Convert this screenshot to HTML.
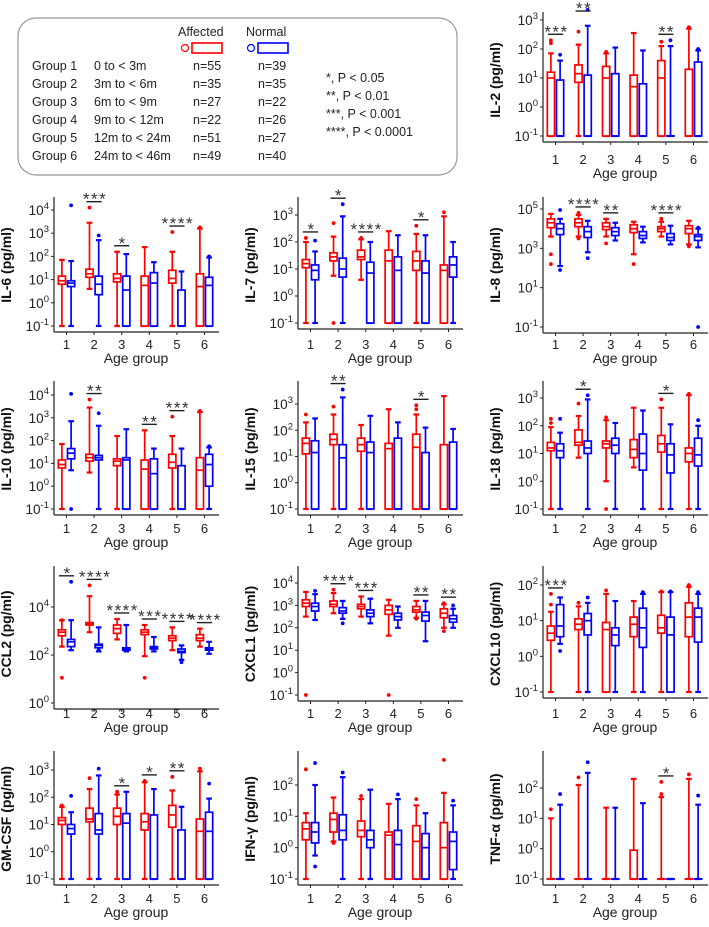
<!DOCTYPE html>
<html><head><meta charset="utf-8"><style>
html,body{margin:0;padding:0;background:#fff;}
svg{display:block;font-family:"Liberation Sans",sans-serif;}
</style></head><body>
<svg id="fig" width="709" height="927" viewBox="0 0 709 927" xmlns="http://www.w3.org/2000/svg">
<g font-size="12.5" fill="#222">
<rect x="18" y="18" width="439" height="157" rx="18" fill="none" stroke="#999" stroke-width="1.2"/>
<text x="178" y="36">Affected</text>
<text x="246" y="36">Normal</text>
<circle cx="185" cy="48" r="3.5" fill="none" stroke="#f00" stroke-width="1.2"/>
<rect x="192" y="43" width="30" height="10" fill="none" stroke="#f00" stroke-width="1.6"/>
<circle cx="251" cy="48" r="3.5" fill="none" stroke="#00f" stroke-width="1.2"/>
<rect x="258" y="43" width="30" height="10" fill="none" stroke="#00f" stroke-width="1.6"/>
<g id="grpRows"></g>
<text x="326" y="82">*, P &lt; 0.05</text>
<text x="326" y="100">**, P &lt; 0.01</text>
<text x="326" y="118">***, P &lt; 0.001</text>
<text x="326" y="136">****, P &lt; 0.0001</text>
</g>
<g id="panels"></g>
</svg>
<script>
const categories = ['1','2','3','4','5','6'];
const groupNames = ['Group 1','Group 2','Group 3','Group 4','Group 5','Group 6'];
const groupRanges = ['0 to < 3m','3m to < 6m','6m to < 9m','9m to < 12m','12m to < 24m','24m to < 46m'];
const nAffected = [55,35,27,22,51,49];
const nNormal = [39,35,22,26,27,40];

// values are log10(pg/ml): [min, q1, median, q3, max]
const il2Aff = [[-1,-1,1.0,1.2,1.85],[-1,0.85,1.15,1.45,2.15],[-1,-1,1.0,1.4,1.85],[-1,-1,0.7,1.1,2.55],[-1,-1,1.0,1.6,2.1],[-1,-1,-1,1.3,2.7]];
const il2Nor = [[-1,-1,-1,0.93,1.6],[-1,-1,-1,1.1,2.8],[-1,-1,-1,1.15,2.05],[-1,-1,-1,0.8,1.95],[-1,-1,-1,-1,2.1],[-1,-1,-1,1.55,1.95]];
const il2AffOut = [[2.2,2.3],[2.6],[1.9],[],[2.25,2.25],[2.75]];
const il2NorOut = [[1.8],[3.35],[],[],[2.3],[2.0]];
const il2Sig = ['***','**','','','**',''];

const il6Aff = [[-1,0.8,0.95,1.15,1.85],[0.6,1.1,1.25,1.45,3.45],[-1,0.9,1.05,1.25,2.2],[-1,-1,0.75,1.15,2.4],[-1,0.85,1.05,1.4,2.2],[-1,-1,0.7,1.25,3.2]];
const il6Nor = [[-1,0.7,0.85,0.95,1.8],[-1,0.35,0.8,1.15,2.7],[-1,-1,0.55,1.15,2.1],[-1,-1,0.85,1.3,1.75],[-1,-1,-1,0.55,1.35],[-1,-1,0.75,1.1,1.95]];
const il6AffOut = [[],[4.1],[],[],[3.05],[3.25]];
const il6NorOut = [[4.2],[2.9],[],[],[],[2.0]];
const il6Sig = ['','***','*','','****',''];

const il7Aff = [[-1,1.05,1.2,1.35,2.0],[0.75,1.3,1.45,1.6,2.2],[0.6,1.35,1.45,1.7,2.1],[-1,-1,1.3,1.7,2.4],[-1,0.95,1.3,1.65,2.3],[-1,-1,0.95,1.15,2.95]];
const il7Nor = [[-1,0.6,0.95,1.15,1.65],[-1,0.7,1.0,1.4,2.95],[-1,-1,0.85,1.25,2.0],[-1,-1,0.95,1.45,2.25],[-1,-1,0.85,1.3,2.25],[-1,0.7,1.15,1.45,2.0]];
const il7AffOut = [[2.15],[-1,2.7],[2.15],[],[2.6],[3.1]];
const il7NorOut = [[2.05],[3.4],[],[],[],[]];
const il7Sig = ['*','*','****','','*',''];

const il8Aff = [[3.6,4.05,4.3,4.5,4.75],[3.6,4.1,4.3,4.5,4.7],[3.6,3.95,4.1,4.3,4.5],[2.7,3.8,4.0,4.2,4.35],[3.6,3.85,4.0,4.1,4.35],[3.2,3.75,4.0,4.15,4.4]];
const il8Nor = [[2.1,3.7,4.0,4.25,4.5],[2.8,3.55,3.85,4.1,4.4],[3.4,3.65,3.85,4.05,4.3],[3.3,3.5,3.65,3.85,4.1],[3.2,3.4,3.55,3.75,4.15],[3.05,3.4,3.6,3.7,4.0]];
const il8AffOut = [[2.7,2.2],[3.5,4.8],[3.25],[2.2],[4.5],[3.1]];
const il8NorOut = [[4.95,1.9],[2.5],[],[],[],[-1,4.05]];
const il8Sig = ['','****','**','','****',''];

const il10Aff = [[-1,0.8,0.95,1.15,1.85],[0.6,1.1,1.25,1.4,3.45],[-1,0.9,1.1,1.2,2.2],[-1,-1,0.75,1.15,2.45],[-1,0.8,1.05,1.4,2.2],[-1,-1,0.7,1.25,3.25]];
const il10Nor = [[0.7,1.2,1.45,1.65,2.85],[-1,1.15,1.25,1.35,2.65],[-1,-1,1.15,1.25,2.5],[-1,-1,0.55,1.2,1.65],[-1,-1,-1,0.9,1.65],[-1,0.0,0.95,1.4,1.7]];
const il10AffOut = [[],[3.8],[],[],[3.05],[3.3]];
const il10NorOut = [[-1,4.05],[3.2],[],[],[],[1.75]];
const il10Sig = ['','**','','**','***',''];

const il15Aff = [[-1,1.1,1.5,1.7,2.3],[-1,1.45,1.65,1.85,2.6],[-1,1.2,1.45,1.7,2.2],[-1,-1,1.3,1.5,2.8],[-1,-1,1.35,1.85,2.6],[-1,-1,-1,1.45,3.3]];
const il15Nor = [[-1,-1,1.15,1.6,2.45],[-1,-1,0.95,1.45,3.25],[-1,-1,1.15,1.55,2.55],[-1,-1,-1,1.7,2.3],[-1,-1,-1,1.15,2.1],[-1,-1,-1,1.55,2.05]];
const il15AffOut = [[2.6],[2.9],[],[],[2.8,2.95],[]];
const il15NorOut = [[],[3.55],[],[],[],[]];
const il15Sig = ['','**','','','*',''];

const il18Aff = [[-1,1.1,1.2,1.4,1.95],[0.85,1.3,1.4,1.85,2.35],[0.0,1.2,1.35,1.45,2.2],[0.5,0.85,1.15,1.5,2.65],[-1,1.05,1.35,1.65,2.65],[-1,0.7,1.0,1.2,3.1]];
const il18Nor = [[-1,0.85,1.1,1.35,1.75],[-1,1.0,1.2,1.45,2.95],[-1,1.0,1.3,1.55,2.1],[-1,0.4,1.0,1.7,2.55],[-1,0.3,0.95,1.35,2.05],[-1,0.55,0.95,1.55,2.0]];
const il18AffOut = [[2.1,2.25],[2.8],[-1,2.3],[],[2.95],[3.15]];
const il18NorOut = [[2.25],[3.1],[],[],[],[2.2]];
const il18Sig = ['','*','','','*',''];

const ccl2Aff = [[2.35,2.8,2.95,3.05,3.45],[2.95,3.25,3.3,3.35,4.45],[2.65,2.9,3.1,3.25,3.5],[1.95,2.85,2.95,3.05,3.25],[2.2,2.6,2.7,2.8,3.15],[2.35,2.6,2.7,2.85,3.1]];
const ccl2Nor = [[2.2,2.35,2.55,2.65,3.45],[2.15,2.3,2.4,2.45,3.15],[2.15,2.2,2.25,2.3,3.25],[2.15,2.25,2.3,2.35,2.75],[1.8,2.1,2.15,2.25,2.4],[2.05,2.2,2.25,2.3,2.55]];
const ccl2AffOut = [[1.05,3.45],[4.9],[],[1.05],[],[]];
const ccl2NorOut = [[5.05],[2.2],[],[],[1.7],[]];
const ccl2Sig = ['*','****','****','***','****','****'];

const cxcl1Aff = [[2.5,2.95,3.1,3.25,3.6],[2.65,2.95,3.05,3.2,3.55],[2.5,2.85,2.95,3.05,3.4],[1.65,2.6,2.8,3.0,3.25],[2.45,2.7,2.8,2.95,3.2],[2.0,2.45,2.65,2.85,3.05]];
const cxcl1Nor = [[2.35,2.75,2.95,3.1,3.5],[2.4,2.65,2.75,2.9,3.2],[2.2,2.5,2.65,2.8,3.3],[2.0,2.35,2.5,2.65,2.95],[1.4,2.3,2.55,2.7,3.2],[2.0,2.25,2.4,2.55,2.85]];
const cxcl1AffOut = [[-1],[3.7],[],[-1],[2.4],[1.85,3.1]];
const cxcl1NorOut = [[3.65],[2.2],[],[],[],[3.0]];
const cxcl1Sig = ['','****','***','','**','**'];

const cxcl10Aff = [[-1,0.45,0.65,0.85,1.25],[-1,0.75,0.9,1.05,1.4],[-1,-1,0.75,0.95,1.75],[-1,0.55,0.9,1.1,1.55],[-1,0.65,0.8,1.15,1.8],[-1,0.55,1.1,1.5,1.95]];
const cxcl10Nor = [[0.35,0.55,0.85,1.45,1.65],[-1,0.6,1.0,1.2,1.5],[-1,0.3,0.6,0.8,1.55],[-1,0.25,0.8,1.35,1.75],[-1,-1,0.6,1.1,1.8],[-1,0.4,1.1,1.35,1.75]];
const cxcl10AffOut = [[1.45,1.75],[1.5],[1.85],[],[1.82],[2.0]];
const cxcl10NorOut = [[0.15],[1.65],[],[1.8],[1.82],[1.8]];
const cxcl10Sig = ['***','','','','',''];

const gmcsfAff = [[-1,1.0,1.15,1.25,1.65],[-1,1.1,1.2,1.6,2.3],[-1,1.0,1.3,1.6,2.1],[-1,0.8,1.1,1.4,2.55],[-1,0.9,1.35,1.7,2.25],[-1,-1,0.75,1.2,2.95]];
const gmcsfNor = [[-1,0.65,0.85,1.0,1.45],[-1,0.65,0.8,1.4,2.8],[-1,-1,1.05,1.4,2.2],[-1,-1,-1,1.35,2.3],[-1,-1,-1,0.8,1.65],[-1,-1,0.75,1.45,1.95]];
const gmcsfAffOut = [[1.7],[2.7],[2.2],[2.6],[2.75],[3.05]];
const gmcsfNorOut = [[2.05],[3.05],[],[],[],[2.5]];
const gmcsfSig = ['','','*','*','**',''];

const ifngAff = [[-1,0.25,0.6,0.8,1.1],[0.2,0.5,0.9,1.1,1.6],[-1,0.35,0.55,0.85,1.55],[-1,-1,0.4,0.5,1.4],[-1,-1,0.2,0.7,1.35],[-1,-1,0.0,0.8,1.75]];
const ifngNor = [[-0.25,0.15,0.5,0.8,2.0],[-1,0.25,0.55,1.05,2.25],[-1,0.0,0.25,0.55,1.85],[-1,-1,0.1,0.55,1.55],[-1,-1,0.0,0.45,1.1],[-1,-0.7,0.2,0.5,1.35]];
const ifngAffOut = [[2.5],[0.15],[1.65],[],[1.55],[2.8]];
const ifngNorOut = [[-0.6,2.7],[2.4],[],[1.7],[],[1.5]];
const ifngSig = ['','','','','',''];

const tnfAff = [[-1,-1,-1,-1,1.0],[-1,-1,-1,-1,2.1],[-1,-1,-1,-1,1.35],[-1,-1,-1,-0.05,2.3],[-1,-1,-1,-1,1.7],[-1,-1,-1,-1,2.3]];
const tnfNor = [[-1,-1,-1,-1,1.45],[-1,-1,-1,-1,2.5],[-1,-1,-1,-1,1.35],[-1,-1,-1,-1,1.5],[-1,-1,-1,-1,-1],[-1,-1,-1,-1,1.45]];
const tnfAffOut = [[1.3],[2.35],[],[],[1.8,2.2],[2.45]];
const tnfNorOut = [[1.8],[2.85],[],[],[],[1.75]];
const tnfSig = ['','','','','*',''];

const NS='http://www.w3.org/2000/svg';
function mk(tag, attrs, parent){const e=document.createElementNS(NS,tag);for(const k in attrs)e.setAttribute(k,attrs[k]);parent.appendChild(e);return e;}

const gr=document.getElementById('grpRows');
for(let i=0;i<6;i++){
  const y=70+i*18;
  const cols=[[32,groupNames[i]],[94,groupRanges[i]],[193,'n='+nAffected[i]],[258,'n='+nNormal[i]]];
  cols.forEach(function(c,j){
    const t=mk('text',{x:c[0],y:y},gr);
    t.textContent=c[1];
    
    
  });
}

const colX=[54,298,543];
const rowY=[0,185,369,554,739];
const panels=[
 {id:'il-2',title:'IL-2 (pg/ml)',c:2,r:0,ex:[-1,0,1,2,3],top:20,bot:136,aff:il2Aff,nor:il2Nor,ao:il2AffOut,no:il2NorOut,sig:il2Sig},
 {id:'il-6',title:'IL-6 (pg/ml)',c:0,r:1,ex:[-1,0,1,2,3,4],top:25,bot:141,aff:il6Aff,nor:il6Nor,ao:il6AffOut,no:il6NorOut,sig:il6Sig},
 {id:'il-7',title:'IL-7 (pg/ml)',c:1,r:1,ex:[-1,0,1,2,3],top:30,bot:138,aff:il7Aff,nor:il7Nor,ao:il7AffOut,no:il7NorOut,sig:il7Sig},
 {id:'il-8',title:'IL-8 (pg/ml)',c:2,r:1,ex:[-1,1,3,5],top:24,bot:142,aff:il8Aff,nor:il8Nor,ao:il8AffOut,no:il8NorOut,sig:il8Sig},
 {id:'il-10',title:'IL-10 (pg/ml)',c:0,r:2,ex:[-1,0,1,2,3,4],top:26,bot:140,aff:il10Aff,nor:il10Nor,ao:il10AffOut,no:il10NorOut,sig:il10Sig},
 {id:'il-15',title:'IL-15 (pg/ml)',c:1,r:2,ex:[-1,0,1,2,3],top:35,bot:140,aff:il15Aff,nor:il15Nor,ao:il15AffOut,no:il15NorOut,sig:il15Sig},
 {id:'il-18',title:'IL-18 (pg/ml)',c:2,r:2,ex:[-1,0,1,2,3],top:29,bot:140,aff:il18Aff,nor:il18Nor,ao:il18AffOut,no:il18NorOut,sig:il18Sig},
 {id:'ccl2',title:'CCL2 (pg/ml)',c:0,r:3,ex:[0,2,4],top:53,bot:149,aff:ccl2Aff,nor:ccl2Nor,ao:ccl2AffOut,no:ccl2NorOut,sig:ccl2Sig},
 {id:'cxcl1',title:'CXCL1 (pg/ml)',c:1,r:3,ex:[-1,0,1,2,3,4],top:29,bot:141,aff:cxcl1Aff,nor:cxcl1Nor,ao:cxcl1AffOut,no:cxcl1NorOut,sig:cxcl1Sig},
 {id:'cxcl10',title:'CXCL10 (pg/ml)',c:2,r:3,ex:[-1,0,1,2],top:31,bot:138,aff:cxcl10Aff,nor:cxcl10Nor,ao:cxcl10AffOut,no:cxcl10NorOut,sig:cxcl10Sig},
 {id:'gm-csf',title:'GM-CSF (pg/ml)',c:0,r:4,ex:[-1,0,1,2,3],top:31,bot:140,aff:gmcsfAff,nor:gmcsfNor,ao:gmcsfAffOut,no:gmcsfNorOut,sig:gmcsfSig},
 {id:'ifn-gamma',title:'IFN-γ (pg/ml)',c:1,r:4,ex:[-1,0,1,2],top:46,bot:140,aff:ifngAff,nor:ifngNor,ao:ifngAffOut,no:ifngNorOut,sig:ifngSig},
 {id:'tnf-alpha',title:'TNF-α (pg/ml)',c:2,r:4,ex:[-1,0,1,2],top:49,bot:140,aff:tnfAff,nor:tnfNor,ao:tnfAffOut,no:tnfNorOut,sig:tnfSig}
];

const root=document.getElementById('panels');
panels.forEach(function(p){
  const ax=colX[p.c], y0=rowY[p.r];
  const e0=p.ex[0], e1=p.ex[p.ex.length-1];
  const axisY=y0+p.bot+6;
  function yS(v){return y0+p.bot-(v-e0)/(e1-e0)*(p.bot-p.top);}
  function xS(i){return ax+12.5+i*27.6;}
  const g=mk('g',{},root);
  
  
  const ya=mk('line',{x1:ax,y1:Math.min(y0+12,y0+p.top-6),x2:ax,y2:axisY,stroke:'#222','stroke-width':1.2},g);
  
  
  const xa=mk('line',{x1:ax,y1:axisY,x2:ax+165,y2:axisY,stroke:'#222','stroke-width':1.2},g);
  
  
  p.ex.forEach(function(e){
    const y=yS(e);
    mk('line',{x1:ax-3,y1:y,x2:ax,y2:y,stroke:'#222','stroke-width':1},g);
    const t=mk('text',{x:ax-5,y:y+5,'text-anchor':'end','font-size':13.5,fill:'#222'},g);
    
    
    const a=document.createElementNS(NS,'tspan');a.textContent='10';t.appendChild(a);
    const b=document.createElementNS(NS,'tspan');b.setAttribute('font-size','9.5');b.setAttribute('dy','-6');b.textContent=String(e);t.appendChild(b);
  });
  categories.forEach(function(c,i){
    mk('line',{x1:xS(i),y1:axisY,x2:xS(i),y2:axisY+3,stroke:'#222','stroke-width':1},g);
    const t=mk('text',{x:xS(i),y:y0+164,'text-anchor':'middle','font-size':13,fill:'#222'},g);
    t.textContent=c;
    
    
  });
  const xt=mk('text',{x:ax+82,y:y0+178,'text-anchor':'middle','font-size':14,fill:'#222'},g);
  xt.textContent='Age group';
  
  
  const yc=y0+80;
  const tt=mk('text',{x:ax-43,y:yc,'text-anchor':'middle','font-size':14,'font-weight':'bold',fill:'#111',transform:'rotate(-90 '+(ax-43)+' '+yc+')'},g);
  tt.textContent=p.title;
  
  

  function drawBox(st,outs,x,color,kind,i){
    const bg=mk('g',{stroke:color,'stroke-width':1.7,fill:'none'},g);
    
    
    mk('line',{x1:x,y1:yS(st[0]),x2:x,y2:yS(st[4])},bg);
    mk('line',{x1:x-2.8,y1:yS(st[0]),x2:x+2.8,y2:yS(st[0]),'stroke-width':2.2},bg);
    mk('line',{x1:x-2.8,y1:yS(st[4]),x2:x+2.8,y2:yS(st[4]),'stroke-width':2.2},bg);
    const yq3=yS(st[3]), yq1=yS(st[1]);
    mk('rect',{x:x-3.6,y:yq3,width:7.2,height:Math.max(0.01,yq1-yq3),fill:'#fff'},bg);
    mk('line',{x1:x-3.6,y1:yS(st[2]),x2:x+3.6,y2:yS(st[2])},bg);
    outs.forEach(function(v){
      const o=mk('circle',{cx:x,cy:yS(v),r:1.4,'stroke-width':1,fill:color},bg);
      
      
    });
  }
  categories.forEach(function(c,i){
    const xr=xS(i)-4.6, xb=xS(i)+4.6;
    drawBox(p.aff[i],p.ao[i],xr,'#f00','affected',i);
    drawBox(p.nor[i],p.no[i],xb,'#00f','normal',i);
    if(p.sig[i]){
      const m=Math.max(p.aff[i][4],p.nor[i][4],...p.ao[i],...p.no[i]);
      const ly=Math.max(yS(m)-6, 11);
      const sl=mk('line',{x1:xr-3,y1:ly,x2:xb+3,y2:ly,stroke:'#222','stroke-width':1.4},g);
      
      
      const st=mk('text',{x:xS(i)+1,y:ly+3,'text-anchor':'middle','font-size':17,fill:'#333','letter-spacing':'1.5'},g);
      st.textContent=p.sig[i];
      
      
    }
  });
});
</script>
</body></html>
